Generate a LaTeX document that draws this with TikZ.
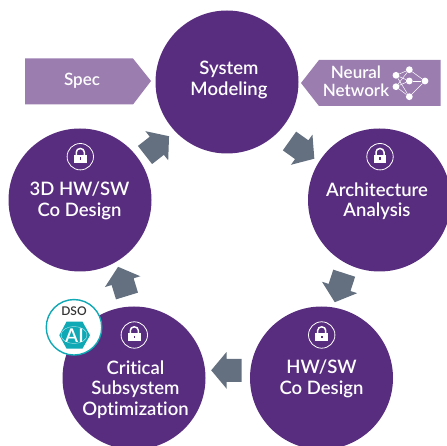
\documentclass[tikz,border=0pt]{standalone}
\usepackage{fontspec}
\setmainfont[Ligatures=NoCommon]{Lato Semibold}
\newfontfamily\dsofont{Lato Semibold}
\definecolor{stagepurple}{HTML}{582C7E}
\definecolor{lightpurple}{HTML}{9B7DB0}
\definecolor{slatearrow}{HTML}{64707F}
\definecolor{dsoteal}{HTML}{0FA8B5}
\tikzset{
  stage/.style={circle,fill=stagepurple,draw=none,minimum size=143pt,inner sep=0pt},
  stagetext/.style={text=white,align=center,font=\fontsize{18.5}{20.5}\selectfont,inner sep=0pt},
  inputbox/.style={fill=lightpurple,draw=none},
  inputtext/.style={text=white,align=center,font=\fontsize{17}{18}\selectfont,inner sep=0pt},
  netdot/.style={circle,fill=white,minimum size=6.8pt,inner sep=0pt},
  netline/.style={draw=white,line width=0.5pt},
  pics/flowarrow/.style={code={
    \fill[slatearrow] (0,11.5)--(15,11.5)--(15,18.5)--(30.5,0)--(15,-18.5)--(15,-11.5)--(0,-11.5)--cycle;
  }},
  pics/lockicon/.style={code={
    \draw[white,line width=0.8pt] (0,0) circle (13.2);
    \draw[white,line width=1.5pt] (-4,-1) -- (-4,-4.6) arc[start angle=180,end angle=360,x radius=4,y radius=3.6] -- (4,-1);
    \fill[white] (-6.3,-2) rectangle (6.3,6.3);
    \fill[stagepurple] (-0.8,0.8) rectangle (0.8,3.2);
  }}
}
\begin{document}
\begin{tikzpicture}[x=1pt,y=-1pt]
\useasboundingbox (0,0) rectangle (447,446);
\clip (0,0) rectangle (447,446);
% stages
\node[stage] (sys) at (227,82) {};
\node[stage] (arch) at (379.5,200) {};
\node[stage] (hwsw) at (321.5,378) {};
\node[stage] (crit) at (134,378) {};
\node[stage] (threed) at (80,200) {};
% stage text
\node[stagetext] (systxt) at (229,80) {System\\Modeling};
\node[stagetext] (archtxt) at (377,201) {Architecture\\Analysis};
\node[stagetext] (hwswtxt) at (321.5,379) {HW/SW\\Co Design};
\node[stagetext] (crittxt) at (135.5,389.5) {Critical\\Subsystem\\Optimization};
\node[stagetext] (threetxt) at (79.5,201) {3D HW/SW\\Co Design};
% locks
\pic at (80.3,156.7) {lockicon};
\pic at (380,156.7) {lockicon};
\pic at (321.7,335) {lockicon};
\pic at (134.3,335) {lockicon};
% flow arrows
\pic[rotate=38] at (145,155) {flowarrow};
\pic[rotate=-35.5] at (289.5,141) {flowarrow};
\pic[rotate=252] at (344.2,273.2) {flowarrow};
\pic[rotate=180] at (241.7,370.3) {flowarrow};
\pic[rotate=107] at (127,296) {flowarrow};
% Spec input
\fill[inputbox] (25,58.5)--(133,58.5)--(151,81)--(133,104.5)--(25,104.5)--cycle;
\node[inputtext] (spec) at (82,80.5) {Spec};
% Neural Network input
\fill[inputbox] (301,83)--(319,60)--(440.7,60)--(440.7,106)--(319,106)--cycle;
\node[inputtext,align=center] (nn) at (356,81.5) {Neural\\Network};
\node[netdot] (n1) at (396,75.3) {};
\node[netdot] (n2) at (396,86.7) {};
\node[netdot] (n3) at (409.3,69.7) {};
\node[netdot] (n4) at (409.3,81) {};
\node[netdot] (n5) at (409.3,96.7) {};
\node[netdot] (n6) at (425,81) {};
\foreach \a in {n1,n2}\foreach \b in {n3,n4,n5}\draw[netline] (\a)--(\b);
\foreach \a in {n3,n4,n5}\draw[netline] (\a)--(n6);
% DSO badge
\node[circle,fill=white,draw=dsoteal,line width=1.4pt,minimum size=55.5pt,inner sep=0pt] (badge) at (74,327.3) {};
\node[text=black!80,inner sep=0pt,font=\dsofont\fontsize{12}{12}\selectfont] (dso) at (74,311.5) {DSO};
\fill[dsoteal] (59.3,335.3)--(66.5,321.7)--(82.5,321.7)--(90,335.3)--(82.5,348.5)--(66.5,348.5)--cycle;
\draw[white!70!dsoteal,line width=0.4pt] (74,335) ellipse (13 and 8.5);
\node[text=white,inner sep=0pt,font=\fontsize{19}{19}\selectfont] (ai) at (74.5,336) {AI};
\end{tikzpicture}
\end{document}
